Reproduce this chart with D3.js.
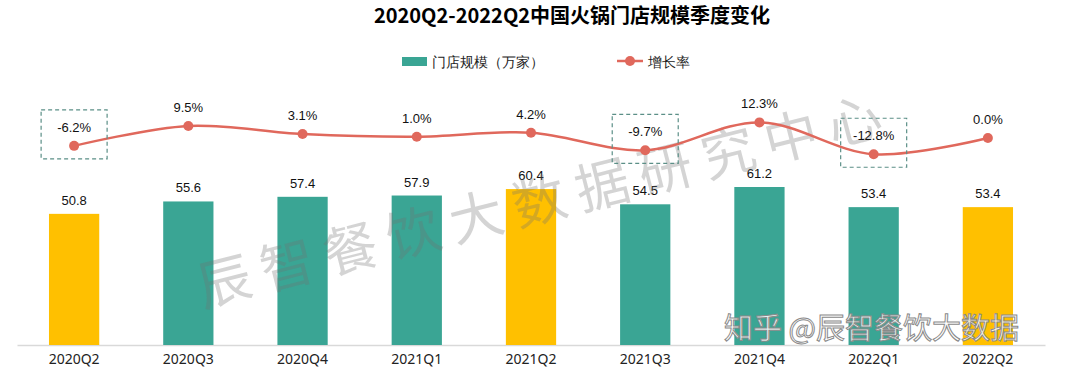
<!DOCTYPE html>
<html>
<head>
<meta charset="utf-8">
<script src="https://cdn.jsdelivr.net/npm/d3@7"></script>
<style>
  body { margin: 0; background: #fff; }
  text { font-family: "Liberation Sans", Arial, sans-serif; }
</style>
</head>
<body>
<script>
const width = 1080,
  height = 378;

const quarters = ['2020Q2', '2020Q3', '2020Q4', '2021Q1', '2021Q2', '2021Q3', '2021Q4', '2022Q1', '2022Q2'];
const stores = [50.8, 55.6, 57.4, 57.9, 60.4, 54.5, 61.2, 53.4, 53.4];
const growth = [-6.2, 9.5, 3.1, 1.0, 4.2, -9.7, 12.3, -12.8, 0.0];
const highlight = ['2020Q2', '2021Q2', '2022Q2'];
const boxed = ['2020Q2', '2021Q3', '2022Q1'];

const teal = '#3aa594',
  yellow = '#ffc000',
  red = '#e0685c';

const svg = d3.select('body').append('svg')
  .attr('width', width)
  .attr('height', height);

const x = d3.scaleBand()
  .domain(quarters)
  .range([17, 1045])
  .paddingInner(0.56)
  .paddingOuter(0.28);

const y = d3.scaleLinear()
  .domain([0, 61.2])
  .range([345, 187]);

const yr = d3.scaleLinear()
  .domain([0, 12.3])
  .range([138, 122.4]);

const cx = d => x(d) + x.bandwidth() / 2;

// title
svg.append('text')
  .attr('x', 572)
  .attr('y', 23)
  .attr('text-anchor', 'middle')
  .attr('font-size', 20)
  .attr('font-weight', 'bold')
  .style('font-family', '"Noto Sans CJK SC", sans-serif')
  .text('2020Q2-2022Q2中国火锅门店规模季度变化');

// legend
const legend = svg.append('g')
  .style('font-family', '"Noto Sans CJK SC", sans-serif')
  .attr('font-size', 14);
legend.append('rect')
  .attr('x', 402).attr('y', 57)
  .attr('width', 25).attr('height', 9)
  .attr('fill', teal);
legend.append('text')
  .attr('x', 432).attr('y', 66.5)
  .attr('fill', '#222')
  .text('门店规模（万家）');
legend.append('line')
  .attr('x1', 617).attr('x2', 643)
  .attr('y1', 61).attr('y2', 61)
  .attr('stroke', red).attr('stroke-width', 2.5);
legend.append('circle')
  .attr('cx', 630).attr('cy', 61).attr('r', 5)
  .attr('fill', red);
legend.append('text')
  .attr('x', 648).attr('y', 66.5)
  .attr('fill', '#222')
  .text('增长率');

// axis
const axis = svg.append('g')
  .attr('transform', `translate(0,${y(0)})`)
  .call(d3.axisBottom(x).tickSize(0).tickPadding(9));
axis.select('.domain').attr('stroke', '#d9d9d9').attr('stroke-width', 1.5);
axis.selectAll('text')
  .attr('font-size', 14)
  .attr('fill', '#222')
  .style('font-family', '"Noto Sans", sans-serif');

// bars
svg.append('g')
  .selectAll('rect')
  .data(quarters)
  .enter().append('rect')
  .attr('x', d => x(d))
  .attr('width', x.bandwidth())
  .attr('y', (d, i) => y(stores[i]))
  .attr('height', (d, i) => y(0) - y(stores[i]))
  .attr('fill', d => highlight.includes(d) ? yellow : teal);

svg.append('g')
  .selectAll('text')
  .data(quarters)
  .enter().append('text')
  .attr('x', cx)
  .attr('y', (d, i) => y(stores[i]) - 9)
  .attr('text-anchor', 'middle')
  .attr('font-size', 13)
  .attr('fill', '#111')
  .text((d, i) => stores[i].toFixed(1));

// big watermark (under the line)
svg.append('text')
  .attr('transform', 'translate(203,307) rotate(-14.3)')
  .attr('font-size', 54)
  .attr('letter-spacing', 11)
  .attr('fill', '#6f6f6f')
  .attr('fill-opacity', 0.3)
  .style('font-family', '"Noto Sans CJK SC", sans-serif')
  .text('辰智餐饮大数据研究中心');

// growth line
const line = d3.line()
  .x(d => cx(d))
  .y((d, i) => yr(growth[i]))
  .curve(d3.curveCatmullRom.alpha(0.5));

svg.append('path')
  .datum(quarters)
  .attr('d', line)
  .attr('fill', 'none')
  .attr('stroke', red)
  .attr('stroke-width', 2.5);

svg.append('g')
  .selectAll('circle')
  .data(quarters)
  .enter().append('circle')
  .attr('cx', cx)
  .attr('cy', (d, i) => yr(growth[i]))
  .attr('r', 5)
  .attr('fill', red);

svg.append('g')
  .selectAll('text')
  .data(quarters)
  .enter().append('text')
  .attr('x', cx)
  .attr('y', (d, i) => yr(growth[i]) - 14)
  .attr('text-anchor', 'middle')
  .attr('font-size', 13)
  .attr('fill', '#111')
  .text((d, i) => growth[i].toFixed(1) + '%');

// dashed boxes around negative highlights
svg.append('g')
  .selectAll('rect')
  .data(boxed)
  .enter().append('rect')
  .attr('x', d => cx(d) - 33)
  .attr('y', d => yr(growth[quarters.indexOf(d)]) - 36)
  .attr('width', 66)
  .attr('height', 49)
  .attr('fill', 'none')
  .attr('stroke', '#5b8f87')
  .attr('stroke-width', 1.2)
  .attr('stroke-dasharray', '4,3');

// zhihu watermark
svg.append('text')
  .attr('x', 724)
  .attr('y', 339)
  .attr('font-size', 29)
  .attr('fill', '#fff')
  .attr('fill-opacity', 0.9)
  .attr('stroke', '#8a8a8a')
  .attr('stroke-width', 1)
  .style('font-family', '"Noto Sans CJK SC", sans-serif')
  .text('知乎 @辰智餐饮大数据');
</script>
</body>
</html>
